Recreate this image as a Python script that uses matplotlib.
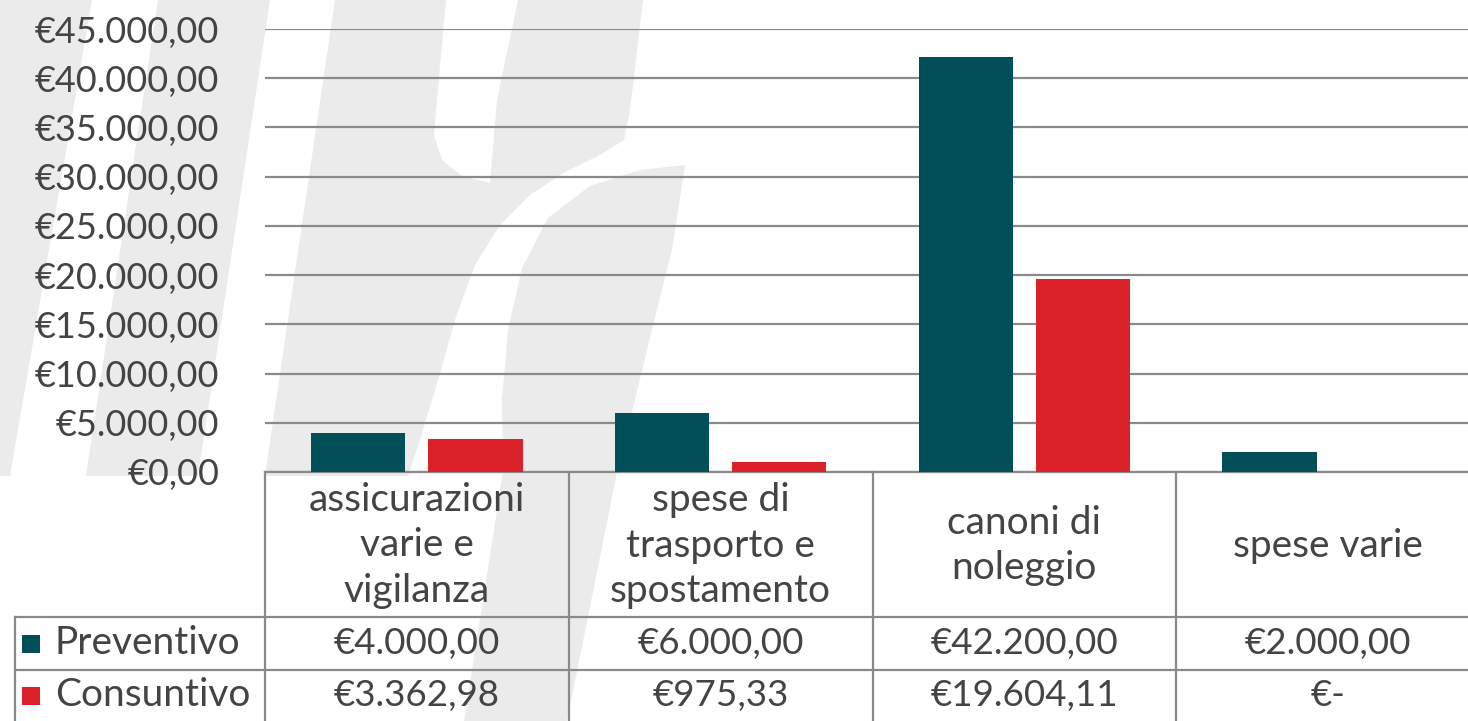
import matplotlib
matplotlib.use("Agg")
import matplotlib.pyplot as plt
import matplotlib.transforms as mtransforms
from matplotlib.patches import Polygon, Rectangle
import numpy as np

categories = ["assicurazioni\nvarie e\nvigilanza", "spese di\ntrasporto e\nspostamento",
              "canoni di\nnoleggio", "spese varie"]
series = ["Preventivo", "Consuntivo"]
preventivo = [4000.00, 6000.00, 42200.00, 2000.00]
consuntivo = [3362.98, 975.33, 19604.11, 0.0]
colors = ["#024F59", "#DB222A"]
yticks = np.arange(0, 45001, 5000)

W, H = 1468, 721
TXT = "#444444"
LINE = "#8a8a8a"
plt.rcParams["font.family"] = ["Lato", "DejaVu Sans"]
FS = 26      # tick labels / values
FSW = 28     # words in the table


def eur(v):
    if v == 0:
        return "€-"
    s = f"{v:,.2f}"
    return "€" + s.replace(",", "X").replace(".", ",").replace("X", ".")


fig = plt.figure(figsize=(W / 100, H / 100), dpi=100)
fig.patch.set_facecolor("white")
# pixel coordinates, origin top-left
px = mtransforms.Affine2D().scale(1 / W, -1 / H).translate(0, 1) + fig.transFigure

# faint background watermark
wm = "#ebebeb"
shapes = [
    [(0, 0), (92, 0), (10, 476), (0, 476)],
    [(158, 0), (270, 0), (198, 476), (86, 476)],
    [(335, 0), (446, 0), (437, 100), (434, 135), (442, 160), (462, 176), (490, 183),
     (497, 100), (518, 0), (643, 0), (630, 110), (624, 140), (600, 155), (565, 172),
     (530, 195), (500, 225), (475, 265), (455, 320), (438, 380), (420, 440), (408, 476),
     (265, 476)],
    [(685, 165), (672, 250), (650, 338), (617, 472), (567, 721), (464, 721), (503, 472),
     (502, 400), (508, 330), (522, 268), (548, 218), (590, 186), (640, 170)],
]
for pts in shapes:
    fig.add_artist(Polygon(pts, closed=True, transform=px, facecolor=wm,
                           edgecolor="none", zorder=-5))

ax = fig.add_axes([265 / W, (H - 472) / H, 1215 / W, (472 - 29) / H])
ax.set_facecolor("none")
x = np.arange(len(categories))
bw = 0.31
off = 0.193
ax.bar(x - off, preventivo, bw, color=colors[0], zorder=3)
ax.bar(x + off, consuntivo, bw, color=colors[1], zorder=3)

ax.set_xlim(-0.5, len(categories) - 0.5)
ax.set_ylim(0, 45000)
ax.set_yticks(yticks)
ax.set_yticklabels([eur(v) if v else "€0,00" for v in yticks], fontsize=FS, color=TXT)
ax.tick_params(axis="y", length=0, pad=33)
ax.set_xticks([])
ax.yaxis.grid(True, color=LINE, lw=1.6, zorder=1)
ax.set_axisbelow(True)
for s in ["top", "right", "left"]:
    ax.spines[s].set_visible(False)
ax.spines["bottom"].set_color(LINE)
ax.spines["bottom"].set_linewidth(1.6)

# data table under the chart
tr = mtransforms.blended_transform_factory(ax.transData, px)
y_top, y_h, y_r1, y_bot = 472, 617, 670, 721
for b in np.arange(-0.5, len(categories) - 0.5, 1.0):
    ax.plot([b, b], [y_top, y_bot], color=LINE, lw=1.6, transform=tr, clip_on=False)
for yy in [y_h, y_r1]:
    ax.plot([15, W], [yy, yy], color=LINE, lw=1.6, transform=px, clip_on=False)
ax.plot([15, 15], [y_h, y_bot], color=LINE, lw=1.6, transform=px, clip_on=False)

for i, c in enumerate(categories):
    ax.text(i, (y_top + y_h) / 2 + 1, c, transform=tr, ha="center", va="center",
            fontsize=FSW, color=TXT, linespacing=1.33, clip_on=False)

rows = [(preventivo, (y_h + y_r1) / 2), (consuntivo, (y_r1 + y_bot) / 2)]
for k, (vals, yc) in enumerate(rows):
    ax.add_artist(Rectangle((22, yc - 9), 18, 18, transform=px, facecolor=colors[k],
                            edgecolor="none", clip_on=False))
    ax.text(55, yc, series[k], transform=px, ha="left", va="center", fontsize=FSW,
            color=TXT, clip_on=False)
    for i, v in enumerate(vals):
        ax.text(i, yc, eur(v), transform=tr, ha="center", va="center", fontsize=FS + 0.5,
                color=TXT, clip_on=False)

fig.savefig("out.png", dpi=100)
